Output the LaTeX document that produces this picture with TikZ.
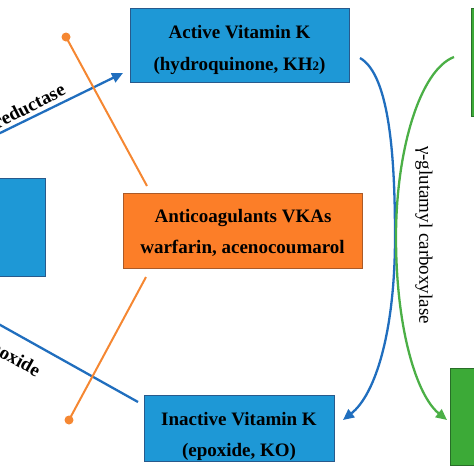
\documentclass[tikz,border=0pt]{standalone}
\usepackage{fontspec}
\setmainfont{Liberation Serif}
\usetikzlibrary{arrows.meta}
\definecolor{boxblue}{RGB}{30,152,214}
\definecolor{boxblueline}{RGB}{40,90,140}
\definecolor{boxorange}{RGB}{252,126,40}
\definecolor{boxorangeline}{RGB}{170,90,40}
\definecolor{boxgreen}{RGB}{60,170,55}
\definecolor{boxgreenline}{RGB}{40,110,40}
\definecolor{lineblue}{RGB}{32,110,190}
\definecolor{lineorange}{RGB}{245,135,50}
\definecolor{linegreen}{RGB}{75,175,70}
\begin{document}
\begin{tikzpicture}[x=1pt,y=-1pt,
  bluebox/.style={fill=boxblue,draw=boxblueline,line width=0.8pt,inner sep=0pt,outer sep=0pt},
  orangebox/.style={fill=boxorange,draw=boxorangeline,line width=0.8pt,inner sep=0pt,outer sep=0pt},
  greenbox/.style={fill=boxgreen,draw=boxgreenline,line width=0.8pt,inner sep=0pt,outer sep=0pt},
  boxtext/.style={font=\fontsize{19}{19}\selectfont\bfseries,inner sep=0pt,anchor=base},
  lbl/.style={font=\fontsize{19}{19}\selectfont\bfseries,inner sep=0pt},
  lblreg/.style={font=\fontsize{19}{19}\selectfont,inner sep=0pt},
  blueline/.style={draw=lineblue,line width=2.3pt},
  greenline/.style={draw=linegreen,line width=2.3pt},
  orangeline/.style={draw=lineorange,line width=2pt},
  tip/.style={-{Triangle[length=11pt,width=10pt]}},
]
\useasboundingbox (0,0) rectangle (474,474);
\clip (0,0) rectangle (474,474);

% boxes
\node[bluebox,minimum width=219pt,minimum height=74pt] (active) at (239.5,45) {};
\node[bluebox,minimum width=50pt,minimum height=98pt] (left) at (20,227) {};
\node[orangebox,minimum width=239pt,minimum height=75pt] (anti) at (242.5,230.5) {};
\node[bluebox,minimum width=190pt,minimum height=66pt] (inactive) at (239,428) {};
\node[greenbox,minimum width=20pt,minimum height=108pt] (greentop) at (481,62) {};
\node[greenbox,minimum width=40pt,minimum height=97pt] (greenbot) at (470,416.5) {};

% box texts
\node[boxtext] (activeA) at (239.5,38) {Active Vitamin K};
\node[boxtext] (activeB) at (239.5,70) {(hydroquinone, KH\raisebox{-0.5pt}{\fontsize{13}{13}\selectfont 2})};
\node[boxtext] (antiA) at (243,222) {Anticoagulants VKAs};
\node[boxtext] (antiB) at (242.5,253) {warfarin, acenocoumarol};
\node[boxtext] (inactA) at (239,425) {Inactive Vitamin K};
\begin{scope}
\clip (144.5,395.5) rectangle (333.5,460);
\node[boxtext] (inactB) at (239,456.5) {(epoxide, KO)};
\end{scope}

% coordinates
\coordinate (redS) at (-6,136);
\coordinate (redE) at (123,73);
\coordinate (epoS) at (-6,321.5);
\coordinate (epoE) at (138,402);
\coordinate (o1a) at (147,186);
\coordinate (o1b) at (66,37);
\coordinate (o2a) at (146,277);
\coordinate (o2b) at (69,420);
\coordinate (bS) at (360,58);
\coordinate (bM) at (395,237);
\coordinate (bE) at (343,420);
\coordinate (gS) at (454,57);
\coordinate (gM) at (396,237);
\coordinate (gE) at (447,420);

% blue reductase arrow and epoxide line
\draw[blueline,tip] (redS) -- (redE);
\draw[blueline] (epoS) -- (epoE);

% orange inhibition lines
\draw[orangeline] (o1a) -- (o1b);
\fill[lineorange] (o1b) circle (4.5pt);
\draw[orangeline] (o2a) -- (o2b);
\fill[lineorange] (o2b) circle (4.5pt);

% carboxylase curves
\draw[blueline,tip] (bS) .. controls (390,75) and (395,160) .. (bM) .. controls (395,330) and (376,394) .. (bE);
\draw[greenline,tip] (gS) .. controls (420,70) and (396,150) .. (gM) .. controls (396,330) and (417,396) .. (gE);

% labels
\node[lbl,rotate=27] (redlbl) at (29,106) {reductase};
\node[lbl,rotate=-29] (epolbl) at (11,358) {epoxide};
\node[lblreg,rotate=-90] (gammalbl) at (424,235) {γ-glutamyl carboxylase};
\end{tikzpicture}
\end{document}
